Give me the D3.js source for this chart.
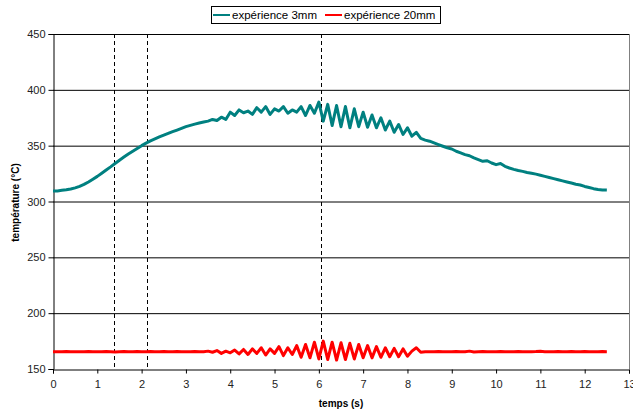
<!DOCTYPE html>
<html><head><meta charset="utf-8">
<script src="https://cdn.jsdelivr.net/npm/d3@7"></script>
<style>body{margin:0;background:#fff}svg{display:block;font-family:"Liberation Sans",Arial,sans-serif}</style>
</head><body><svg id="c" width="633" height="412"></svg>
<script>
const times = [0,0.1,0.2,0.3,0.4,0.5,0.6,0.7,0.8,0.9,1,1.1,1.2,1.3,1.4,1.5,1.6,1.7,1.8,1.9,2,2.1,2.2,2.3,2.4,2.5,2.6,2.7,2.8,2.9,3,3.1,3.2,3.3,3.4,3.5,3.6,3.7,3.8,3.9,4,4.1,4.2,4.3,4.4,4.5,4.6,4.7,4.8,4.9,5,5.1,5.2,5.3,5.4,5.5,5.6,5.7,5.8,5.9,6,6.1,6.2,6.3,6.4,6.5,6.6,6.7,6.8,6.9,7,7.1,7.2,7.3,7.4,7.5,7.6,7.7,7.8,7.9,8,8.1,8.2,8.3,8.4,8.5,8.6,8.7,8.8,8.9,9,9.1,9.2,9.3,9.4,9.5,9.6,9.7,9.8,9.9,10,10.1,10.2,10.3,10.4,10.5,10.6,10.7,10.8,10.9,11,11.1,11.2,11.3,11.4,11.5,11.6,11.7,11.8,11.9,12,12.1,12.2,12.3,12.4,12.5];
const exp3mm = [309.5,309.5,310,310.5,311.2,312.2,313.6,315.3,317.5,320,322.5,325.3,328.2,331,334,337,339.8,342.5,345,347.5,350,352.3,354.3,356,357.8,359.4,361,362.5,364,365.5,367,368.2,369.3,370.3,371.2,372,373.5,372.5,375.5,373.5,380,377,382,379.5,381,378,384,380,385,378,383,381,385,379,382,380,385,377,386,379,389,372,387,368,386,367,385,366,383,367,380,366.5,377.5,366,375,364,372,362,369,360,366,358.5,362,356.5,355,354,352.5,351,349.5,348,347,345,343.5,342,341,339,337.5,336,336.5,334.5,333,334,331.5,330,328.8,327.8,327,326,325.3,324.5,323.5,322.5,321.5,320.5,319.5,318.5,317.5,316.5,315.5,314.8,313.5,312.5,311.5,310.8,310.3,310.2];
const exp20mm = [165.5,165.4,165.5,165.6,165.5,165.4,165.5,165.5,165.6,165.5,165.4,165.5,165.6,165.5,165.3,165.5,165.7,165.5,165.4,165.6,165.5,165.4,165.6,165.5,165.5,165.7,165.4,165.5,165.6,165.4,165.5,165.5,165.6,165.4,165.5,166,165,166.5,164,166,164.5,167,163.5,167.5,163,168,164,169,162.5,168,164,170,162,169,163,171,160.5,172,160,174,159,175,158.5,174,158,173.5,158.5,173,159,172,160,171,160,170,160.5,169,161,168.5,161,168,161.5,166,169,165,165.5,165.5,165.4,165.6,165.5,165.5,165.4,165.6,165.5,165.5,166,165.3,165.5,165.6,165.5,165.4,165.5,165.7,165.5,165.4,165.5,165.6,165.5,165.4,165.5,165.6,165.8,165.5,165.4,165.5,165.6,165.5,165.5,165.7,165.4,165.5,165.6,165.5,165.4,165.5,165.6,165.5];
const xTicks = [0,1,2,3,4,5,6,7,8,9,10,11,12,13];
const yTicks = [150,200,250,300,350,400,450];
const markers = [1.37,2.12,6.04];
const seriesNames = ["expérience 3mm","expérience 20mm"];
const seriesColors = ["#008080","#ff0000"];

const svg = d3.select("#c");
const L=53,R=629,T=34,B=369;
const x = d3.scaleLinear().domain([0,13]).range([L,R]);
const y = d3.scaleLinear().domain([150,450]).range([B,T]);

svg.append("g").selectAll("line").data(yTicks.slice(1)).join("line")
  .attr("x1",L).attr("x2",R).attr("y1",d=>y(d)+0.5).attr("y2",d=>y(d)+0.5)
  .attr("stroke","#000").attr("stroke-width",1);
svg.append("line").attr("x1",R+0.5).attr("x2",R+0.5).attr("y1",T).attr("y2",B).attr("stroke","#808080");

svg.append("g").selectAll("line").data(markers).join("line")
  .attr("x1",d=>Math.round(x(d))+0.5).attr("x2",d=>Math.round(x(d))+0.5).attr("y1",T).attr("y2",B)
  .attr("stroke","#000").attr("stroke-dasharray","4,3").attr("stroke-width",1);

const xa = svg.append("g").attr("transform",`translate(0,${B+0.5})`)
  .call(d3.axisBottom(x).tickValues(xTicks).tickFormat(d3.format("d")).tickSize(4).tickPadding(7));
const ya = svg.append("g").attr("transform",`translate(${L+0.5},0)`)
  .call(d3.axisLeft(y).tickValues(yTicks).tickFormat(d3.format("d")).tickSize(5).tickPadding(3));
[xa,ya].forEach(a=>{
  a.select(".domain").attr("stroke","#000");
  a.selectAll(".tick line").attr("stroke","#000");
  a.selectAll("text").attr("font-size","11px").attr("fill","#222").attr("font-family","Liberation Sans, Arial, sans-serif");
});

const series = [exp3mm, exp20mm];
const line = d3.line().x((d,i)=>x(times[i])).y(d=>y(d));
series.forEach((s,k)=>{
  svg.append("path").datum(s).attr("d",line).attr("fill","none")
    .attr("stroke",seriesColors[k]).attr("stroke-width",3).attr("stroke-linejoin","round");
});

svg.append("text").attr("x",(L+R)/2).attr("y",407).attr("text-anchor","middle")
  .attr("font-size","10px").attr("font-weight","bold").attr("fill","#000").text("temps (s)");
svg.append("text").attr("transform",`translate(19,${(T+B)/2+1}) rotate(-90)`).attr("text-anchor","middle")
  .attr("font-size","10px").attr("font-weight","bold").attr("fill","#000").text("température (°C)");

const lg = svg.append("g");
lg.append("rect").attr("x",211.5).attr("y",6.5).attr("width",229).attr("height",17).attr("fill","#fff").attr("stroke","#000");
const lx=[213,325];
seriesNames.forEach((n,k)=>{
  lg.append("line").attr("x1",lx[k]).attr("x2",lx[k]+17).attr("y1",15).attr("y2",15).attr("stroke",seriesColors[k]).attr("stroke-width",2);
  lg.append("text").attr("x",lx[k]+19).attr("y",19).attr("font-size","11.5px").attr("fill","#000").text(n);
});
</script></body></html>
